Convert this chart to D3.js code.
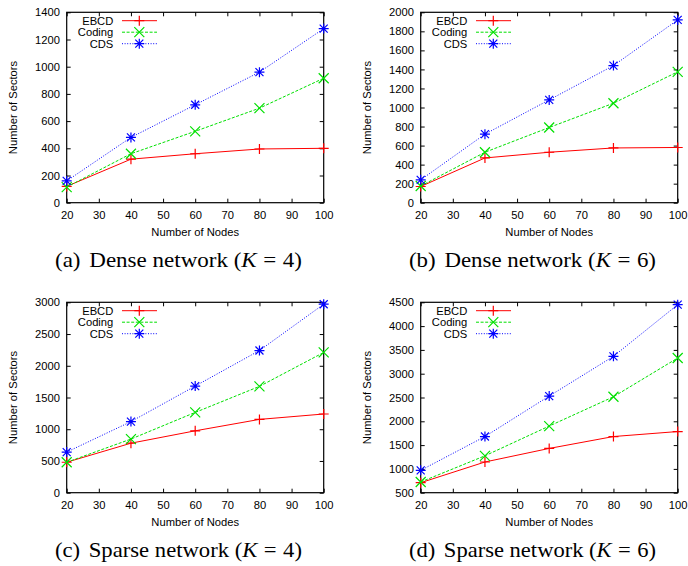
<!DOCTYPE html>
<html>
<head>
<meta charset="utf-8">
<script src="https://cdn.jsdelivr.net/npm/d3@7"></script>
<style>
body {margin: 0; background: #fff}
svg {display: block}
.tick text {font-family: "Liberation Sans", Arial, sans-serif; font-size: 11.2px; fill: #000}
.tick line {stroke: #000}
</style>
</head>
<body>
<svg id="fig" width="688" height="566"></svg>
<script>
/*** Data ***/
const nodes = [20, 40, 60, 80, 100]
const seriesNames = ["EBCD", "Coding", "CDS"]

const denseK4Ebcd   = [120, 320, 360, 395, 400]
const denseK4Coding = [115, 360, 525, 695, 915]
const denseK4Cds    = [160, 480, 720, 960, 1280]

const denseK6Ebcd   = [170, 470, 530, 575, 580]
const denseK6Coding = [175, 530, 790, 1045, 1375]
const denseK6Cds    = [240, 720, 1080, 1440, 1920]

const sparseK4Ebcd   = [480, 780, 975, 1155, 1240]
const sparseK4Coding = [480, 845, 1265, 1675, 2210]
const sparseK4Cds    = [640, 1120, 1680, 2240, 2970]

const sparseK6Ebcd   = [710, 1145, 1430, 1680, 1785]
const sparseK6Coding = [725, 1275, 1900, 2515, 3330]
const sparseK6Cds    = [970, 1680, 2530, 3365, 4450]

const yDomains   = [[0, 1400], [0, 2000], [0, 3000], [500, 4500]]
const yTickSteps = [200, 200, 500, 500]
const xTicks     = [20, 30, 40, 50, 60, 70, 80, 90, 100]
const capLabels  = ["(a)", "(b)", "(c)", "(d)"]
const capTexts   = ["Dense network", "Dense network", "Sparse network", "Sparse network"]
const kValues    = [4, 6, 4, 6]

const panelData = [
	[denseK4Ebcd, denseK4Coding, denseK4Cds],
	[denseK6Ebcd, denseK6Coding, denseK6Cds],
	[sparseK4Ebcd, sparseK4Coding, sparseK4Cds],
	[sparseK6Ebcd, sparseK6Coding, sparseK6Cds]
]

/*** Layout & styles ***/
const PW = 257, PH = 190.4
const origins = [[66.7, 12.3], [420.7, 12.3], [66.7, 302.3], [420.7, 302.3]]
const colors  = ["#ff0000", "#00e000", "#0000ff"]
const dashes  = [null, "3,1.6", "1,1.6"]
const SANS    = '"Liberation Sans", Arial, sans-serif'
const SERIF   = '"Liberation Serif", "Times New Roman", serif'

const svg = d3.select("#fig")

// marker path for each series: + , x , *
function marker(i, r) {
	var p = ""
	var d = r * 0.8
	if (i == 0 || i == 2) p += `M${-r},0H${r}M0,${-r}V${r}`
	if (i == 1) p += `M${-r},${-r}L${r},${r}M${-r},${r}L${r},${-r}`
	if (i == 2) p += `M${-d},${-d}L${d},${d}M${-d},${d}L${d},${-d}`
	return p
}

panelData.forEach((rows, k) => {
	var [ox, oy] = origins[k]
	var g = svg.append("g").attr("transform", `translate(${ox},${oy})`)
	var x = d3.scaleLinear().domain([20, 100]).range([0, PW])
	var y = d3.scaleLinear().domain(yDomains[k]).range([PH, 0])
	var yt = d3.range(yDomains[k][0], yDomains[k][1] + 1, yTickSteps[k])

	// axes, ticks inside and mirrored
	g.append("g").attr("transform", `translate(0,${PH})`)
		.call(d3.axisBottom(x).tickValues(xTicks).tickFormat(d3.format("d")).tickSizeInner(-4).tickSizeOuter(0).tickPadding(8.3))
	g.append("g")
		.call(d3.axisTop(x).tickValues(xTicks).tickFormat("").tickSizeInner(-4).tickSizeOuter(0))
	g.append("g")
		.call(d3.axisLeft(y).tickValues(yt).tickFormat(d3.format("d")).tickSizeInner(-4).tickSizeOuter(0).tickPadding(6.7))
	g.append("g").attr("transform", `translate(${PW},0)`)
		.call(d3.axisRight(y).tickValues(yt).tickFormat("").tickSizeInner(-4).tickSizeOuter(0))
	g.selectAll(".domain").remove()
	g.selectAll(".tick line").attr("stroke-width", 1)

	g.append("rect").attr("width", PW).attr("height", PH)
		.attr("fill", "none").attr("stroke", "#000").attr("stroke-width", 1.2)

	g.append("text").attr("x", PW / 2).attr("y", PH + 33)
		.attr("text-anchor", "middle").attr("font-family", SANS).attr("font-size", 11.2)
		.text("Number of Nodes")
	g.append("text").attr("transform", `translate(-49.4,${PH / 2}) rotate(-90)`)
		.attr("text-anchor", "middle").attr("font-family", SANS).attr("font-size", 11.2)
		.text("Number of Sectors")

	// series
	var line = d3.line().x((d, j) => x(nodes[j])).y(d => y(d))
	rows.forEach((vals, i) => {
		g.append("path").datum(vals).attr("d", line)
			.attr("fill", "none").attr("stroke", colors[i]).attr("stroke-width", 1)
			.attr("stroke-dasharray", dashes[i])
		g.selectAll(null).data(vals).enter().append("path")
			.attr("transform", (d, j) => `translate(${x(nodes[j])},${y(d)})`)
			.attr("d", marker(i, 5)).attr("fill", "none")
			.attr("stroke", colors[i]).attr("stroke-width", 1.2)
	})

	// legend
	var lg = g.append("g").attr("transform", "translate(0,8.4)")
	seriesNames.forEach((n, i) => {
		var yy = i * 11.5
		lg.append("text").attr("x", 46.6).attr("y", yy).attr("dy", "0.36em")
			.attr("text-anchor", "end").attr("font-family", SANS).attr("font-size", 11.2).text(n)
		lg.append("line").attr("x1", 55.3).attr("x2", 90.3).attr("y1", yy).attr("y2", yy)
			.attr("stroke", colors[i]).attr("stroke-width", 1).attr("stroke-dasharray", dashes[i])
		lg.append("path").attr("transform", `translate(72.6,${yy})`).attr("d", marker(i, 5))
			.attr("fill", "none").attr("stroke", colors[i]).attr("stroke-width", 1.2)
	})

	// caption
	var cap = svg.append("text")
		.attr("x", ox - 11.7).attr("y", oy + 254.3)
		.attr("font-family", SERIF).attr("font-size", 21)
		.attr("textLength", 247).attr("lengthAdjust", "spacingAndGlyphs")
	cap.append("tspan").text(capLabels[k])
	cap.append("tspan").attr("dx", 8).text(capTexts[k] + " (")
	cap.append("tspan").attr("font-style", "italic").text("K")
	cap.append("tspan").attr("dx", 6).text("=")
	cap.append("tspan").attr("dx", 6).text(kValues[k] + ")")
})
</script>
</body>
</html>
